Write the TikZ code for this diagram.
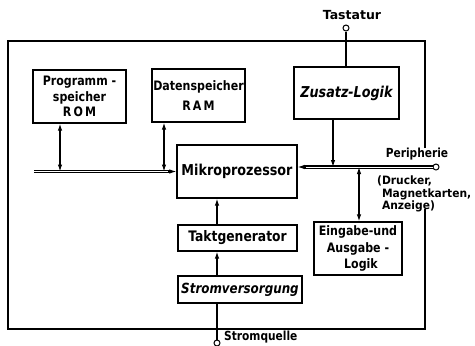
\documentclass[tikz,border=0pt]{standalone}
\usepackage{fontspec}
\setmainfont{DejaVu Sans}[FakeStretch=0.85]
\newfontfamily\widesans{DejaVu Sans}
\newfontfamily\midsans{DejaVu Sans}[FakeStretch=0.93]
\usetikzlibrary{arrows.meta}
\newcommand{\fs}[2]{\bfseries\fontsize{#1}{#2}\selectfont}
\begin{document}
\begin{tikzpicture}[x=1pt,y=-1pt,
  box/.style={draw,line width=1.3pt,inner sep=1pt,align=center,font=\fs{13}{15.5}},
  lbl/.style={inner sep=0pt,font=\fs{12.5}{12}},
  terminal/.style={draw,circle,line width=1pt,minimum size=6pt,inner sep=0pt,fill=white},
  arr/.style={line width=1.1pt,-{Latex[length=7pt,width=4.5pt]}},
  biarr/.style={line width=1.1pt,{Latex[length=7pt,width=4.5pt]}-{Latex[length=7pt,width=4.5pt]}},
  wire/.style={line width=1.1pt},
  bus/.style={double,double distance=0.5pt,line width=1.4pt},
  frame/.style={line width=1.2pt}]
\useasboundingbox (0,0) rectangle (475,346);

% outer frame of the system, open where the periphery connects
\draw[frame] (425,148) -- (425,41) -- (8,41) -- (8,329) -- (425,329) -- (425,209);

% function blocks
\node[box,minimum width=93pt,minimum height=53pt] (rom) at (79.5,96.5)
  {Programm -\\speicher\\R\,O\,M};
\node[box,minimum width=93pt,minimum height=53pt,inner sep=0pt] (ram) at (198.5,95.5)
  {Datenspeicher\\[4pt]R\,A\,M};
\node[box,minimum width=105pt,minimum height=52pt,font=\bfseries\itshape\fontsize{15}{18}\selectfont] (zus) at (346.5,93)
  {Zusatz-Logik};
\node[box,minimum width=120pt,minimum height=53pt,font=\fs{15}{18}] (mp) at (237,171.5)
  {Mikroprozessor};
\node[box,minimum width=119pt,minimum height=26pt,font=\fs{14.5}{17}] (takt) at (237.5,238)
  {Taktgenerator};
\node[box,minimum width=124pt,minimum height=27pt,font=\bfseries\itshape\fontsize{14}{17}\selectfont] (strom) at (240,289.5)
  {Stromversorgung};
\node[box,minimum width=88pt,minimum height=53pt,font=\fs{13}{16.5},inner sep=0pt] (ein) at (358,248.5)
  {Eingabe-und\\Ausgabe -\\\hspace*{6pt}Logik};

% external terminals
\node[terminal] (tast) at (346,28) {};
\node[lbl,anchor=south,font=\widesans\fs{12.5}{12}] (tastl) at (352,20) {Tastatur};
\node[terminal] (periph) at (436,167) {};
\node[lbl,anchor=south] (periphl) at (417,160) {Peripherie};
\node[lbl,anchor=north west,align=left,font=\midsans\fs{11.5}{12.5}] (periphd) at (377,176)
  {(Drucker,\\\phantom{(}Magnetkarten,\\\phantom{(}Anzeige)};
\node[terminal] (quelle) at (217,343) {};
\node[lbl,anchor=west] (quellel) at (224,337) {Stromquelle};

% bus coordinates
\coordinate (busL) at (34,171.5);
\coordinate (romB) at (60,171.5);
\coordinate (ramB) at (164,171.5);
\coordinate (zusB) at (333,167);
\coordinate (einB) at (359,167);
\coordinate (vx) at (217,0);

% system bus, left and right of the processor
\draw[bus] (busL) -- ([xshift=-6pt]mp.west);
\draw[arr] ([xshift=-8pt]mp.west) -- (mp.west);
\draw[bus] (periph.west) -- ([xshift=6pt]mp.east |- periph);
\draw[arr] ([xshift=8pt]mp.east |- periph) -- (mp.east |- periph);

% block connections to the bus
\draw[biarr] (romB) -- (romB |- rom.south);
\draw[biarr] (ramB) -- (ramB |- ram.south);
\draw[arr] (zusB |- zus.south) -- (zusB);
\draw[biarr] (einB) -- (einB |- ein.north);
\draw[wire] (tast) -- (tast |- zus.north);

% clock and power supply chain
\draw[arr] (takt.north -| vx) -- (mp.south -| vx);
\draw[arr] (strom.north -| vx) -- (takt.south -| vx);
\draw[wire] (strom.south -| vx) -- (quelle);
\end{tikzpicture}
\end{document}
